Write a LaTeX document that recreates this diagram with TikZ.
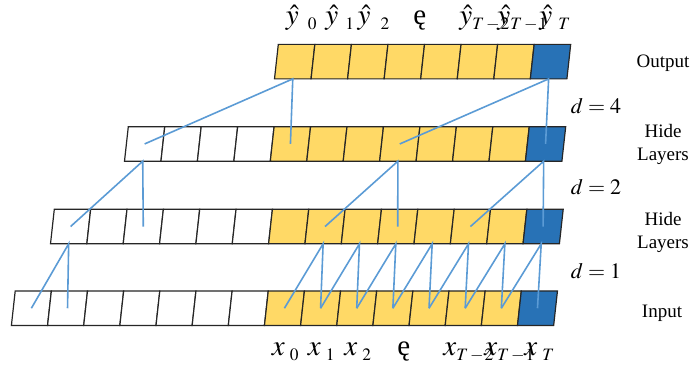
\documentclass[tikz,border=0pt]{standalone}
\usepackage{amsmath}
\usepackage{mathptmx}
\usepackage{fontspec}
\setmainfont{Liberation Serif}
\usepackage{tikz}
\usepackage{xcolor}
\usetikzlibrary{arrows.meta,positioning}
\definecolor{cellYellow}{HTML}{FFD966}
\definecolor{cellBlue}{HTML}{2872B6}
\definecolor{cellEdge}{HTML}{262626}
\definecolor{linkBlue}{HTML}{5B9BD5}
\newcommand{\cellHeight}{34.5}
\newcommand{\cellSlant}{3.8}
\newcommand{\subGap}[2]{_{\hspace{#1}\scriptscriptstyle #2}}
\newcommand{\subT}[1]{_{\scriptscriptstyle T\mkern2mu{-}\mkern1mu#1}}
\tikzset{
  cellBox/.style={draw=cellEdge, line width=0.6pt},
  linkLine/.style={draw=linkBlue, line width=0.8pt},
  layerLabel/.style={font=\fontsize{9.5}{11.5}\selectfont, align=center},
  stepLabel/.style={font=\fontsize{14.5}{17}\selectfont, anchor=base west, inner sep=0pt},
  dLabel/.style={font=\fontsize{11}{13}\selectfont}
}
% one row of slanted cells: name, top, x of column 0, cell width, first column
\newcommand{\cellRow}[5]{%
  \foreach \c in {#5,...,14}{
    \pgfmathsetmacro{\lx}{#3+\c*#4}
    \pgfmathsetmacro{\rx}{\lx+#4}
    \ifnum\c<7 \def\cellFill{white}\else\ifnum\c<14 \def\cellFill{cellYellow}\else\def\cellFill{cellBlue}\fi\fi
    \filldraw[cellBox, fill=\cellFill] (\lx,#2) -- (\rx,#2) -- (\rx-\cellSlant,#2+\cellHeight) -- (\lx-\cellSlant,#2+\cellHeight) -- cycle;
    \coordinate (#1-\c) at (\lx+0.5*#4-0.5*\cellSlant,#2+0.5*\cellHeight);
    \coordinate (#1-\c-b) at (\lx+0.5*#4-\cellSlant,#2+\cellHeight);
  }%
}

\begin{document}
\begin{tikzpicture}[x=0.5pt,y=-0.5pt]
  \useasboundingbox (0,0) rectangle (691,368);
  \cellRow{out}{44.4}{22.45}{36.55}{7}
  \cellRow{ha}{126.7}{18.95}{36.45}{3}
  \cellRow{hb}{209.3}{17.95}{36.35}{1}
  \cellRow{in}{291}{15.2}{36.15}{0}

  % dilation 4
  \foreach \c/\p in {7/3,14/10}{
    \draw[linkLine] (ha-\p) -- (out-\c-b) -- (ha-\c);
  }
  % dilation 2
  \foreach \c/\p in {3/1,10/8,14/12}{
    \draw[linkLine] (hb-\p) -- (ha-\c-b) -- (hb-\c);
  }
  % dilation 1
  \foreach \c [evaluate=\c as \p using int(\c-1)] in {1,8,9,...,14}{
    \draw[linkLine] (in-\p) -- (hb-\c-b) -- (in-\c);
  }

  \node[stepLabel] (yHat0) at (285.5,25) {$\hat{y}\subGap{4.5pt}{0}$};
  \node[stepLabel] (yHat1) at (325,25) {$\hat{y}\subGap{3.5pt}{1}$};
  \node[stepLabel] (yHat2) at (357.3,25) {$\hat{y}\subGap{5pt}{2}$};
  \node[stepLabel] (yDots) at (413,25) {ę};
  \node[stepLabel] (yHatA) at (459,25) {$\hat{y}\subT{2}$};
  \node[stepLabel] (yHatB) at (497,25) {$\hat{y}\subT{1}$};
  \node[stepLabel] (yHatT) at (539,25) {$\hat{y}\subGap{3pt}{T}$};

  \node[stepLabel] (x0) at (271.5,356) {$x\subGap{2.5pt}{0}$};
  \node[stepLabel] (x1) at (307.5,356) {$x\subGap{2.5pt}{1}$};
  \node[stepLabel] (x2) at (344,356) {$x\subGap{2.5pt}{2}$};
  \node[stepLabel] (xDots) at (397,356) {ę};
  \node[stepLabel] (xA) at (443,356) {$x\subT{2}$};
  \node[stepLabel] (xB) at (484,356) {$x\subT{1}$};
  \node[stepLabel] (xT) at (524,356) {$x\subGap{2.5pt}{T}$};

  \node[layerLabel] (outName) at (663,63) {Output};
  \node[layerLabel] (haName) at (663,144) {Hide\\Layers};
  \node[layerLabel] (hbName) at (663,232) {Hide\\Layers};
  \node[layerLabel] (inName) at (662,313) {Input};

  \node[dLabel] (dFour) at (596,106) {$d=4$};
  \node[dLabel] (dTwo) at (596,187) {$d=2$};
  \node[dLabel] (dOne) at (596,271) {$d=1$};
\end{tikzpicture}
\end{document}
